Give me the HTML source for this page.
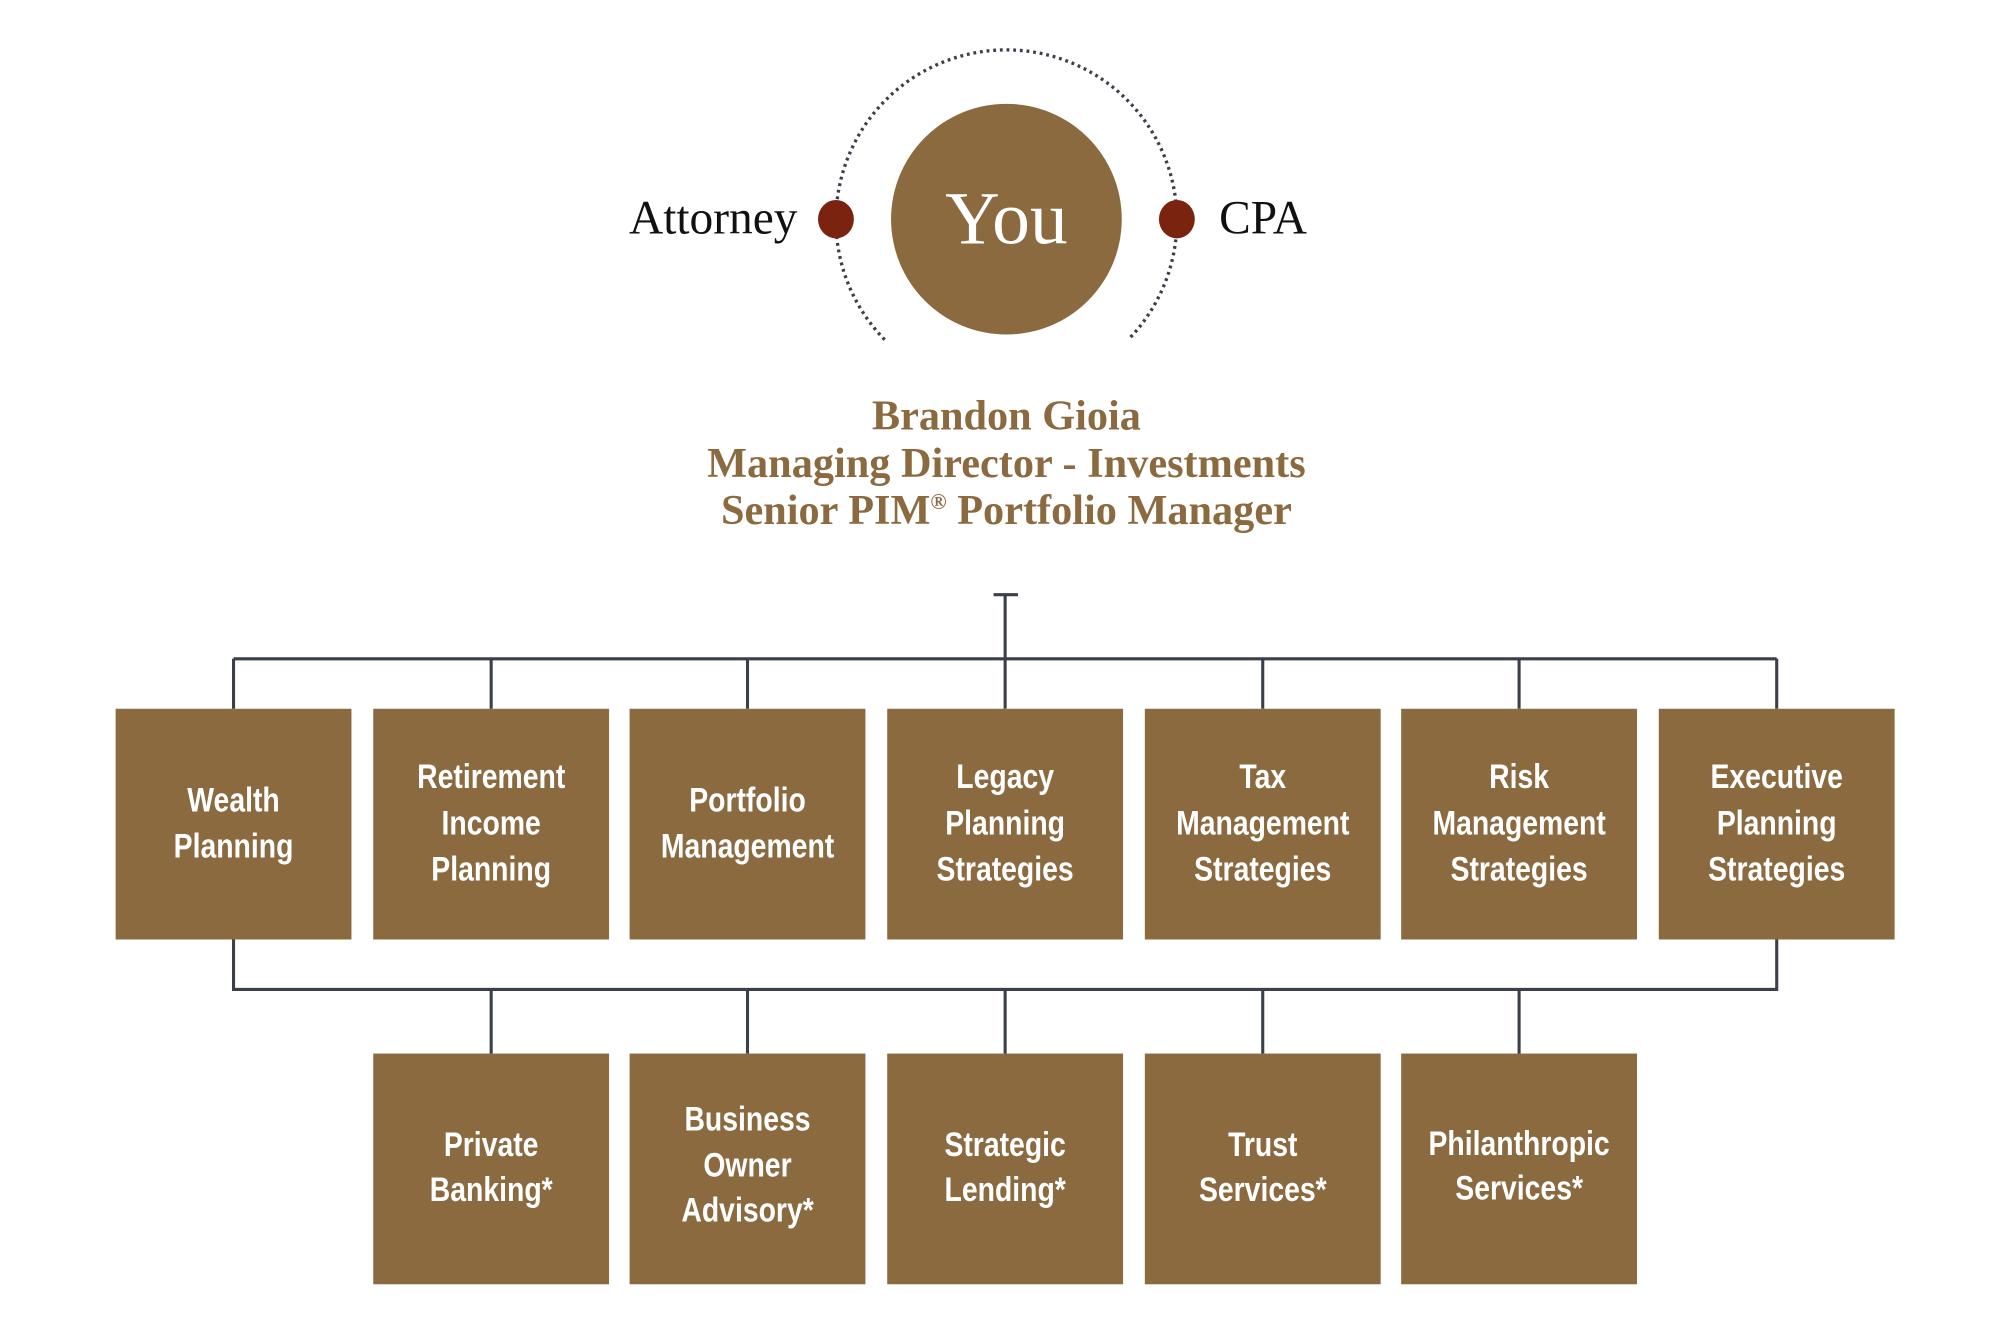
<!DOCTYPE html>
<html><head><meta charset="utf-8"><style>
html,body{margin:0;padding:0;background:#fff;}
svg{display:block;}
.bx{fill:#8b6a40;}
.bt{font-family:"Liberation Sans Narrow","Liberation Sans",sans-serif;font-weight:bold;font-size:27px;fill:#fff;text-anchor:middle;transform-box:fill-box;transform-origin:center;transform:scaleX(0.82);}
.ln{stroke:#3a3f4a;stroke-width:2.4;fill:none;}
.tt{font-family:"Liberation Serif",serif;font-weight:bold;font-size:33px;fill:#8b6a40;text-anchor:middle;}
</style></head><body>
<svg width="2000" height="1324" viewBox="0 0 1560 1033" xmlns="http://www.w3.org/2000/svg">
<path d="M690,265 A133,133 0 1 1 880,265" fill="none" stroke="#3a3f4a" stroke-width="2.6" stroke-dasharray="2.2,3"/>
<circle cx="785" cy="171" r="90" fill="#8b6a40"/>
<text x="785" y="190" font-family="Liberation Serif,serif" font-size="59" fill="#fff" text-anchor="middle">You</text>
<ellipse cx="652" cy="171" rx="14" ry="15" fill="#7a2410"/>
<ellipse cx="918" cy="171" rx="14" ry="15" fill="#7a2410"/>
<text x="622" y="182" font-family="Liberation Serif,serif" font-size="37" fill="#111" text-anchor="end">Attorney</text>
<text x="951" y="182" font-family="Liberation Serif,serif" font-size="37" fill="#111">CPA</text>
<text class="tt" x="785" y="335">Brandon Gioia</text>
<text class="tt" x="785" y="372">Managing Director - Investments</text>
<text class="tt" x="785" y="409">Senior PIM<tspan font-size="17" dy="-12">®</tspan><tspan dy="12"> Portfolio Manager</tspan></text>
<path class="ln" d="M775,464 H794 M784,464 V553 M182,514 H1386 M182,514 V553 M383,514 V553 M583,514 V553 M985,514 V553 M1185,514 V553 M1386,514 V553"/>
<path class="ln" d="M182,733 V772 H1386 V733 M383,772 V822 M583,772 V822 M784,772 V822 M985,772 V822 M1185,772 V822"/>
<rect class="bx" x="90" y="553" width="184" height="180"/>
<rect class="bx" x="291" y="553" width="184" height="180"/>
<rect class="bx" x="491" y="553" width="184" height="180"/>
<rect class="bx" x="692" y="553" width="184" height="180"/>
<rect class="bx" x="893" y="553" width="184" height="180"/>
<rect class="bx" x="1093" y="553" width="184" height="180"/>
<rect class="bx" x="1294" y="553" width="184" height="180"/>
<text class="bt" x="182" y="633">Wealth</text><text class="bt" x="182" y="669">Planning</text>
<text class="bt" x="383" y="615">Retirement</text><text class="bt" x="383" y="651">Income</text><text class="bt" x="383" y="687">Planning</text>
<text class="bt" x="583" y="633">Portfolio</text><text class="bt" x="583" y="669">Management</text>
<text class="bt" x="784" y="615">Legacy</text><text class="bt" x="784" y="651">Planning</text><text class="bt" x="784" y="687">Strategies</text>
<text class="bt" x="985" y="615">Tax</text><text class="bt" x="985" y="651">Management</text><text class="bt" x="985" y="687">Strategies</text>
<text class="bt" x="1185" y="615">Risk</text><text class="bt" x="1185" y="651">Management</text><text class="bt" x="1185" y="687">Strategies</text>
<text class="bt" x="1386" y="615">Executive</text><text class="bt" x="1386" y="651">Planning</text><text class="bt" x="1386" y="687">Strategies</text>
<rect class="bx" x="291" y="822" width="184" height="180"/>
<rect class="bx" x="491" y="822" width="184" height="180"/>
<rect class="bx" x="692" y="822" width="184" height="180"/>
<rect class="bx" x="893" y="822" width="184" height="180"/>
<rect class="bx" x="1093" y="822" width="184" height="180"/>
<text class="bt" x="383" y="902">Private</text><text class="bt" x="383" y="937">Banking*</text>
<text class="bt" x="583" y="882">Business</text><text class="bt" x="583" y="918">Owner</text><text class="bt" x="583" y="953">Advisory*</text>
<text class="bt" x="784" y="902">Strategic</text><text class="bt" x="784" y="937">Lending*</text>
<text class="bt" x="985" y="902">Trust</text><text class="bt" x="985" y="937">Services*</text>
<text class="bt" x="1185" y="901">Philanthropic</text><text class="bt" x="1185" y="936">Services*</text>
</svg>
</body></html>
